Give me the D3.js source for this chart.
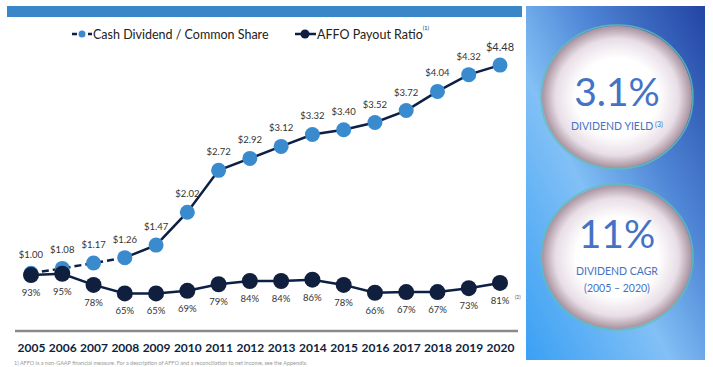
<!DOCTYPE html>
<html><head><meta charset="utf-8">
<script src="https://cdn.jsdelivr.net/npm/d3@7/dist/d3.min.js"></script>
<style>
html,body{margin:0;padding:0;background:#fff;}
svg{display:block;font-family:Lato,"Open Sans",sans-serif;}
</style></head><body>
<svg id="c" width="713" height="367"></svg>
<script>
const years = ["2005","2006","2007","2008","2009","2010","2011","2012","2013","2014","2015","2016","2017","2018","2019","2020"];
const dividend = [1.00,1.08,1.17,1.26,1.47,2.02,2.72,2.92,3.12,3.32,3.40,3.52,3.72,4.04,4.32,4.48];
const dividendLabels = ["$1.00","$1.08","$1.17","$1.26","$1.47","$2.02","$2.72","$2.92","$3.12","$3.32","$3.40","$3.52","$3.72","$4.04","$4.32","$4.48"];
const payout = [93,95,78,65,65,69,79,84,84,86,78,66,67,67,73,81];
const payoutLabels = ["93%","95%","78%","65%","65%","69%","79%","84%","84%","86%","78%","66%","67%","67%","73%","81%"];
const seriesNames = ["Cash Dividend / Common Share","AFFO Payout Ratio"];
const stats = [{big:"3.1%", lines:["DIVIDEND YIELD"], sup:"(3)"},{big:"11%", lines:["DIVIDEND CAGR","(2005 \u2013 2020)"], sup:""}];
const footnote = "1) AFFO is a non-GAAP financial measure. For a description of AFFO and a reconciliation to net income, see the Appendix.";

const svg = d3.select("#c");
const defs = svg.append("defs");
const NAVY = "#0c1f45", BLUE = "#3a8bcd", DARK = "#0f1f3d";

// header bar
svg.append("rect").attr("x",7).attr("y",6).attr("width",515).attr("height",11).attr("fill","#3a87c8");

// right panel gradient
const lg = defs.append("linearGradient").attr("id","pg").attr("x1","100%").attr("y1","0%").attr("x2","0%").attr("y2","100%");
lg.append("stop").attr("offset","0%").attr("stop-color","#2244a3");
lg.append("stop").attr("offset","35%").attr("stop-color","#4f86d6");
lg.append("stop").attr("offset","60%").attr("stop-color","#82c0f6");
lg.append("stop").attr("offset","100%").attr("stop-color","#3aa0f4");
svg.append("rect").attr("x",526).attr("y",6).attr("width",179).attr("height",354).attr("fill","url(#pg)");

const rg = defs.append("radialGradient").attr("id","cg").attr("cx","50%").attr("cy","50%").attr("r","50%");
rg.append("stop").attr("offset","0%").attr("stop-color","#ffffff");
rg.append("stop").attr("offset","55%").attr("stop-color","#ffffff");
rg.append("stop").attr("offset","82%").attr("stop-color","#e8dee6");
rg.append("stop").attr("offset","100%").attr("stop-color","#a8929f");

const circ = [{cx:617,cy:97,rx:75,ry:71},{cx:617,cy:257,rx:75,ry:72}];
stats.forEach((s,i)=>{
  const c = circ[i];
  svg.append("ellipse").attr("cx",c.cx).attr("cy",c.cy).attr("rx",c.rx+1).attr("ry",c.ry+1)
    .attr("fill","none").attr("stroke","#5fc0b0").attr("stroke-width",1.5).attr("opacity",0.8);
  svg.append("ellipse").attr("cx",c.cx).attr("cy",c.cy).attr("rx",c.rx).attr("ry",c.ry).attr("fill","url(#cg)");
  const g = svg.append("g").attr("fill","#4472c4").attr("text-anchor","middle");
  g.append("text").attr("x",c.cx).attr("y",i===0?106:248).attr("font-size",39).text(s.big);
  s.lines.forEach((l,j)=>{
    const t = g.append("text").attr("x",c.cx).attr("y",(i===0?130:275)+j*17).attr("font-size",10.5).text(l);
    if(j===0 && s.sup){ t.append("tspan").attr("font-size",7).attr("dy",-3).text(" "+s.sup); }
  });
});

// scales
const x = d3.scalePoint().domain(years).range([31,500]);
const yD = d3.scaleLinear().domain([0,5]).range([333,34]);
const yP = d3.scaleLinear().domain([0,100]).range([336,270.5]);

// x axis
const xAxis = d3.axisBottom(x).tickSize(0).tickPadding(12);
const ax = svg.append("g").attr("transform","translate(0,331)").call(xAxis);
ax.select(".domain").remove();
svg.append("line").attr("x1",15).attr("x2",518).attr("y1",331).attr("y2",331).attr("stroke","#8a8a8a").attr("stroke-width",2.5);
ax.selectAll("text").attr("font-family","Lato,sans-serif").attr("font-weight","bold").attr("font-size",12).attr("fill",DARK);

// AFFO line
const lineP = d3.line().x((d,i)=>x(years[i])).y(d=>yP(d));
svg.append("path").datum(payout).attr("d",lineP).attr("fill","none").attr("stroke",NAVY).attr("stroke-width",2.5);

// Dividend line: dashed early part, solid after
const lineD = d3.line().x(d=>x(years[d.i])).y(d=>yD(d.v));
const dpts = dividend.map((v,i)=>({v,i}));
svg.append("path").datum(dpts.slice(0,4)).attr("d",lineD).attr("fill","none").attr("stroke",NAVY).attr("stroke-width",2.5).attr("stroke-dasharray","7,4");
svg.append("path").datum(dpts.slice(3)).attr("d",lineD).attr("fill","none").attr("stroke",NAVY).attr("stroke-width",2.5);

// dividend markers
svg.selectAll(".dm").data(dividend).enter().append("circle")
  .attr("cx",(d,i)=>x(years[i])).attr("cy",d=>yD(d)).attr("r",7.5).attr("fill",BLUE);
// payout markers
svg.selectAll(".pm").data(payout).enter().append("circle")
  .attr("cx",(d,i)=>x(years[i])).attr("cy",d=>yP(d)).attr("r",8).attr("fill",DARK);

// labels
svg.selectAll(".dl").data(dividend).enter().append("text")
  .attr("x",(d,i)=>x(years[i])).attr("y",(d,i)=>yD(d)-(i===15?14:15))
  .attr("text-anchor","middle").attr("font-size",(d,i)=>i===15?11:9.5).attr("fill","#333")
  .text((d,i)=>dividendLabels[i]);
svg.selectAll(".pl").data(payout).enter().append("text")
  .attr("x",(d,i)=>x(years[i])).attr("y",d=>yP(d)+21)
  .attr("text-anchor","middle").attr("font-size",9.5).attr("fill","#333")
  .text((d,i)=>payoutLabels[i]);
svg.append("text").attr("x",x("2020")+15).attr("y",yP(81)+16).attr("font-size",5).attr("fill","#555").text("(2)");

// legend
const lgG = svg.append("g");
lgG.append("line").attr("x1",72).attr("x2",92).attr("y1",34).attr("y2",34).attr("stroke",NAVY).attr("stroke-width",2.5).attr("stroke-dasharray","5,3");
lgG.append("circle").attr("cx",82).attr("cy",34).attr("r",3.5).attr("fill",BLUE);
lgG.append("text").attr("x",93).attr("y",38.5).attr("font-size",12.5).attr("fill","#222").text(seriesNames[0]);
lgG.append("line").attr("x1",295).attr("x2",316).attr("y1",34).attr("y2",34).attr("stroke",NAVY).attr("stroke-width",2.5);
lgG.append("circle").attr("cx",305).attr("cy",34).attr("r",4.5).attr("fill",DARK);
const t2 = lgG.append("text").attr("x",317).attr("y",38.5).attr("font-size",12.5).attr("fill","#222").text(seriesNames[1]);
t2.append("tspan").attr("font-size",5.5).attr("dy",-9).text("(1)");

// footnote
svg.append("text").attr("x",14).attr("y",365).attr("font-size",5.5).attr("fill","#999").text(footnote);
</script>
</body></html>
